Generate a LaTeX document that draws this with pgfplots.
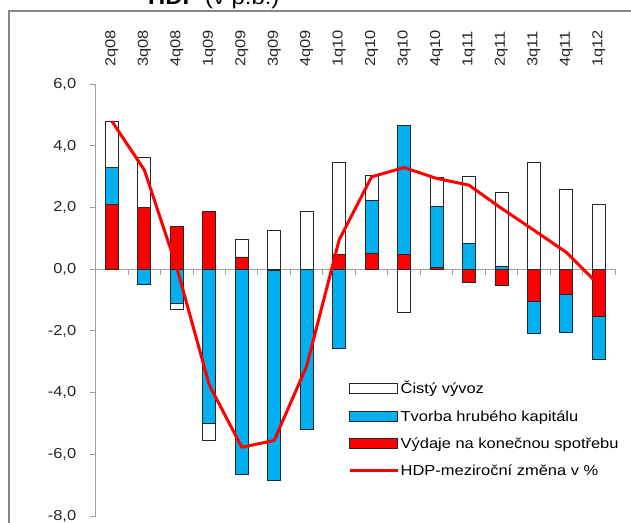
\documentclass[border=0pt]{standalone}
\usepackage{fontspec}
\setmainfont{Liberation Sans}[FakeStretch=1.14]
\usepackage{pgfplots}
\pgfplotsset{compat=1.18}
\usepackage{pgfplotstable}

\definecolor{xblue}{RGB}{0,176,240}
\definecolor{xred}{RGB}{255,0,0}
\definecolor{axgray}{RGB}{160,160,160}
\definecolor{frgray}{RGB}{134,134,134}
\definecolor{bord}{RGB}{38,38,38}
\newcommand{\lbl}{\fontsize{14.5}{17}\selectfont}

% positive parts (stacked upwards: red, blue, white)
\pgfplotstableread{
x red blue white
0 2.11 1.19 1.49
1 2.00 0 1.63
2 1.38 0 0
3 1.89 0 0
4 0.40 0 0.56
5 0 0 1.25
6 0 0 1.89
7 0.49 0 2.97
8 0.51 1.71 0.82
9 0.47 4.21 0
10 0.05 1.98 0.95
11 0 0.84 2.16
12 0 0.11 2.37
13 0 0 3.46
14 0 0 2.59
15 0 0 2.11
}\postab

% negative parts (stacked downwards: red, blue, white)
\pgfplotstableread{
x red blue white
0 0 0 0
1 0 -0.49 0
2 0 -1.12 -0.19
3 0 -5.00 -0.55
4 0 -6.66 0
5 -0.05 -6.79 0
6 0 -5.18 0
7 0 -2.58 0
8 0 0 0
9 0 0 -1.41
10 0 0 0
11 -0.42 0 0
12 -0.53 0 0
13 -1.05 -1.04 0
14 -0.82 -1.22 0
15 -1.54 -1.37 0
}\negtab

\pgfplotstableread{
x hdp
0 4.80
1 3.22
2 0.05
3 -3.75
4 -5.77
5 -5.55
6 -3.14
7 0.95
8 3.00
9 3.30
10 2.95
11 2.73
12 1.98
13 1.27
14 0.55
15 -0.50
}\hdptab

\pgfplotsset{base/.style={scale only axis, width=519.3bp, height=431.7bp,
  at={(95.7bp,-516bp)}, anchor=south west,
  xmin=-0.5, xmax=15.5, ymin=-8, ymax=6, enlargelimits=false}}

\begin{document}
\begin{tikzpicture}
\draw[frgray, line width=1.5bp] (9bp,-11bp) rectangle (660bp,-560bp);
\node[anchor=base west, inner sep=0pt, font=\fontsize{21}{24}\selectfont] at (148bp,-4.5bp) {\textbf{HDP} (v p.b.)};

% negative bars + category labels at top
\begin{axis}[base, ybar stacked, bar width=13bp,
  axis x line*=top, axis y line=none,
  x axis line style={draw=none},
  xtick={0,...,15},
  xticklabels={2q08,3q08,4q08,1q09,2q09,3q09,4q09,1q10,2q10,3q10,4q10,1q11,2q11,3q11,4q11,1q12},
  major tick length=0pt,
  xticklabel style={rotate=90, anchor=west, font=\lbl, text=black!85},
  xticklabel shift=14bp,
  ytick=\empty]
\addplot[fill=xred, draw=bord, line width=0.8bp] table[x=x,y=red]{\negtab};
\addplot[fill=xblue, draw=bord, line width=0.8bp] table[x=x,y=blue]{\negtab};
\addplot[fill=white, draw=bord, line width=0.8bp] table[x=x,y=white]{\negtab};
\end{axis}

% positive bars + axes
\begin{axis}[base, ybar stacked, bar width=13bp,
  axis x line=middle, axis y line=left,
  axis line style={draw=axgray, line width=1bp, -},
  xtick={0.5,1.5,...,15.5}, xticklabels={},
  ytick={-8,-6,...,6},
  tick align=outside, major tick length=6bp,
  tick style={draw=axgray, line width=1bp},
  yticklabel style={font=\lbl, text=black!85, anchor=east},
  yticklabel shift=10bp,
  /pgf/number format/.cd, fixed, fixed zerofill, precision=1, use comma, assume math mode=true]
\addplot[fill=xred, draw=bord, line width=0.8bp] table[x=x,y=red]{\postab};
\addplot[fill=xblue, draw=bord, line width=0.8bp] table[x=x,y=blue]{\postab};
\addplot[fill=white, draw=bord, line width=0.8bp] table[x=x,y=white]{\postab};
\end{axis}

% GDP line + legend
\begin{axis}[base, hide axis,
  legend cell align=left,
  legend style={draw=none, fill=none, at={(0.4858,0.316)}, anchor=north west,
    inner sep=0pt, row sep=12bp, font=\lbl,
    nodes={inner sep=1.5bp}}]
\addlegendimage{legend image code/.code={\draw[fill=white,draw=bord,line width=0.8bp] (0bp,-5bp) rectangle (48bp,5bp);}}
\addlegendentry{Čistý vývoz}
\addlegendimage{legend image code/.code={\draw[fill=xblue,draw=bord,line width=0.8bp] (0bp,-5bp) rectangle (48bp,5bp);}}
\addlegendentry{Tvorba hrubého kapitálu}
\addlegendimage{legend image code/.code={\draw[fill=xred,draw=bord,line width=0.8bp] (0bp,-5bp) rectangle (48bp,5bp);}}
\addlegendentry{Výdaje na konečnou spotřebu}
\addlegendimage{legend image code/.code={\draw[xred,line width=3bp] (0bp,0bp) -- (48bp,0bp);}}
\addlegendentry{HDP-meziroční změna v \%}
\addplot[xred, line width=3bp, mark=none, line join=round, forget plot] table[x=x,y=hdp]{\hdptab};
\end{axis}

\pgfresetboundingbox
\useasboundingbox (0bp,0bp) rectangle (631bp,-523bp);
\end{tikzpicture}
\end{document}
